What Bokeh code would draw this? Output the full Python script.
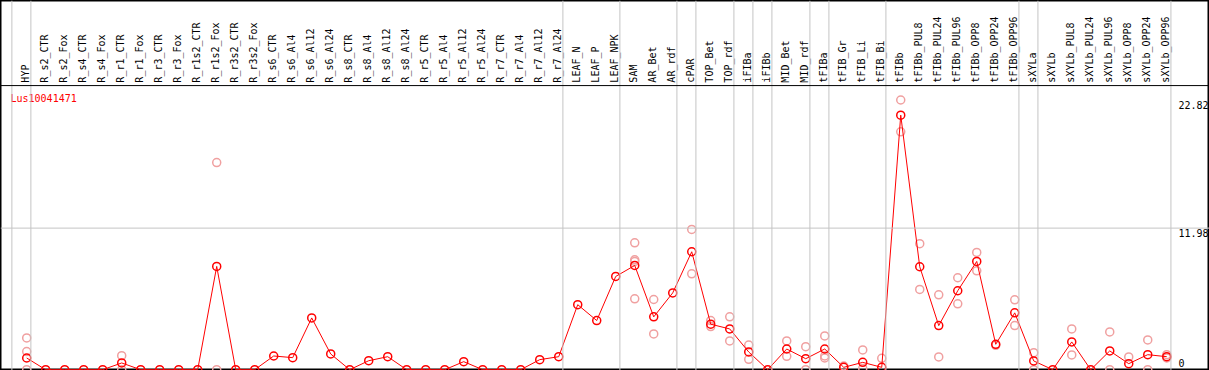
import numpy as np
from bokeh.plotting import figure
from bokeh.models import Range1d, Span
from bokeh.core.properties import value
from bokeh.embed import file_html
from bokeh.resources import INLINE

gene = "Lus10041471"

categories = [
    "HYP", "R_s2_CTR", "R_s2_Fox", "R_s4_CTR", "R_s4_Fox", "R_r1_CTR", "R_r1_Fox",
    "R_r3_CTR", "R_r3_Fox", "R_r1s2_CTR", "R_r1s2_Fox", "R_r3s2_CTR", "R_r3s2_Fox",
    "R_s6_CTR", "R_s6_Al4", "R_s6_Al12", "R_s6_Al24", "R_s8_CTR", "R_s8_Al4",
    "R_s8_Al12", "R_s8_Al24", "R_r5_CTR", "R_r5_Al4", "R_r5_Al12", "R_r5_Al24",
    "R_r7_CTR", "R_r7_Al4", "R_r7_Al12", "R_r7_Al24", "LEAF_N", "LEAF_P", "LEAF_NPK",
    "SAM", "AR_Bet", "AR_rdf", "cPAR", "TOP_Bet", "TOP_rdf", "iFIBa", "iFIBb",
    "MID_Bet", "MID_rdf", "tFIBa", "tFIB_Gr", "tFIB_Li", "tFIB_Bi", "tFIBb",
    "tFIBb_PUL8", "tFIBb_PUL24", "tFIBb_PUL96", "tFIBb_OPP8", "tFIBb_OPP24",
    "tFIBb_OPP96", "sXYLa", "sXYLb", "sXYLb_PUL8", "sXYLb_PUL24", "sXYLb_PUL96",
    "sXYLb_OPP8", "sXYLb_OPP24", "sXYLb_OPP96",
]

mean_values = [
    0.99, 0, 0, 0, 0, 0.57, 0,
    0, 0, 0, 8.74, 0, 0,
    1.16, 1.02, 4.38, 1.33, 0, 0.76,
    1.10, 0, 0, 0, 0.68, 0,
    0, 0, 0.85, 1.10, 5.50, 4.16, 7.89,
    8.82, 4.47, 6.50, 9.98, 3.85, 3.45, 1.50, 0,
    1.75, 0.93, 1.75, 0.20, 0.62, 0.20, 21.54,
    8.71, 3.73, 6.68, 9.16, 2.15,
    4.81, 0.74, 0, 2.35, 0, 1.59,
    0.51, 1.27, 1.10,
]

rep_categories = [
    "HYP", "HYP", "HYP",
    "R_r1_CTR", "R_r1_CTR",
    "R_r1s2_Fox", "R_r1s2_Fox",
    "SAM", "SAM", "SAM", "SAM",
    "AR_Bet", "AR_Bet",
    "cPAR", "cPAR",
    "TOP_Bet", "TOP_Bet",
    "TOP_rdf", "TOP_rdf",
    "iFIBa", "iFIBa",
    "MID_Bet", "MID_Bet",
    "MID_rdf", "MID_rdf",
    "tFIBa", "tFIBa", "tFIBa",
    "tFIB_Gr",
    "tFIB_Li", "tFIB_Li",
    "tFIB_Bi",
    "tFIBb", "tFIBb",
    "tFIBb_PUL8", "tFIBb_PUL8",
    "tFIBb_PUL24", "tFIBb_PUL24",
    "tFIBb_PUL96", "tFIBb_PUL96",
    "tFIBb_OPP8", "tFIBb_OPP8",
    "tFIBb_OPP24",
    "tFIBb_OPP96", "tFIBb_OPP96",
    "sXYLa", "sXYLa",
    "sXYLb_PUL8", "sXYLb_PUL8",
    "sXYLb_PUL96", "sXYLb_PUL96",
    "sXYLb_OPP8",
    "sXYLb_OPP24", "sXYLb_OPP24",
    "sXYLb_OPP96", "sXYLb_OPP96",
]
rep_values = [
    2.69, 1.53, 0,
    1.19, 0,
    17.53, 0,
    10.74, 9.30, 9.16, 6.00,
    5.94, 3.03,
    11.87, 8.11,
    4.16, 3.65,
    4.47, 2.43,
    2.09, 0.88,
    2.43, 1.13,
    1.95, 0,
    2.86, 1.16, 0.99,
    0.31,
    1.67, 0.11,
    0.96,
    22.82, 20.13,
    10.66, 6.79,
    6.34, 1.08,
    7.78, 5.57,
    9.92, 8.37,
    2.06,
    5.91, 3.73,
    1.44, 0,
    3.45, 1.25,
    3.20, 0,
    1.08,
    2.52, 0,
    1.27, 0.99,
]

y_ticks = [0, 11.98, 22.82]

separators_after = [
    "HYP", "R_r7_Al24", "LEAF_NPK", "AR_rdf", "cPAR", "TOP_rdf", "iFIBa", "iFIBb",
    "MID_rdf", "tFIBa", "tFIB_Bi", "tFIBb_OPP96", "sXYLa", "sXYLb_OPP96",
]

# ---------------------------------------------------------------------------
W, H = 1209, 370
X0, X1 = -1.379, 62.25
Y0, Y1 = -0.068, 31.24
LABEL_LINE = 24.04

xs = list(range(len(categories)))
pos = {c: i for i, c in enumerate(categories)}
rep_x = [pos[c] for c in rep_categories]

p = figure(width=W, height=H, output_backend="svg", toolbar_location=None,
           x_range=Range1d(X0, X1), y_range=Range1d(Y0, Y1),
           x_axis_location=None, y_axis_location=None, min_border=0)
p.grid.visible = False
p.background_fill_color = "white"
p.border_fill_color = "white"
p.outline_line_color = "black"
p.outline_line_width = 2

mono = value("DejaVu Sans Mono")

# separators
sep_locs = [-1 + 0.22] + [pos[c] + 0.22 for c in separators_after]
for loc in sep_locs:
    p.add_layout(Span(location=loc, dimension="height", line_color="#c4c4c4", line_width=1))

# horizontal grid line (middle tick)
p.add_layout(Span(location=y_ticks[1], dimension="width", line_color="#c4c4c4", line_width=1))

# separator between labels and plot
p.add_layout(Span(location=LABEL_LINE, dimension="width", line_color="black", line_width=1))

# category labels
p.text(x=[i - 0.06 for i in xs], y=[LABEL_LINE + 0.25] * len(xs), text=categories,
       angle=np.pi / 2, text_align="left", text_baseline="alphabetic",
       text_font=mono, text_font_size="10px", text_color="black")

# title
p.text(x=[-0.853], y=[23.4], text=[gene], text_align="left", text_baseline="top",
       text_font=mono, text_font_size="10px", text_color="red")

# right tick labels
p.text(x=[60.62, 60.62], y=y_ticks[1:], text=[f"{v:g}" for v in y_ticks[1:]],
       text_align="left", text_baseline="top", y_offset=1,
       text_font=mono, text_font_size="10px", text_color="black")
p.text(x=[60.62], y=[y_ticks[0]], text=[f"{y_ticks[0]:g}"],
       text_align="left", text_baseline="bottom", y_offset=-3,
       text_font=mono, text_font_size="10px", text_color="black")

# replicate points
p.scatter(x=rep_x, y=rep_values, marker="circle", size=8, fill_color=None,
          line_color="#f0a0a0", line_width=1.5)

# mean line and points
p.line(x=xs, y=mean_values, line_color="red", line_width=1)
p.scatter(x=xs, y=mean_values, marker="circle", size=8, fill_color=None,
          line_color="red", line_width=1.5)

open("out.html", "w").write(file_html(p, INLINE))
